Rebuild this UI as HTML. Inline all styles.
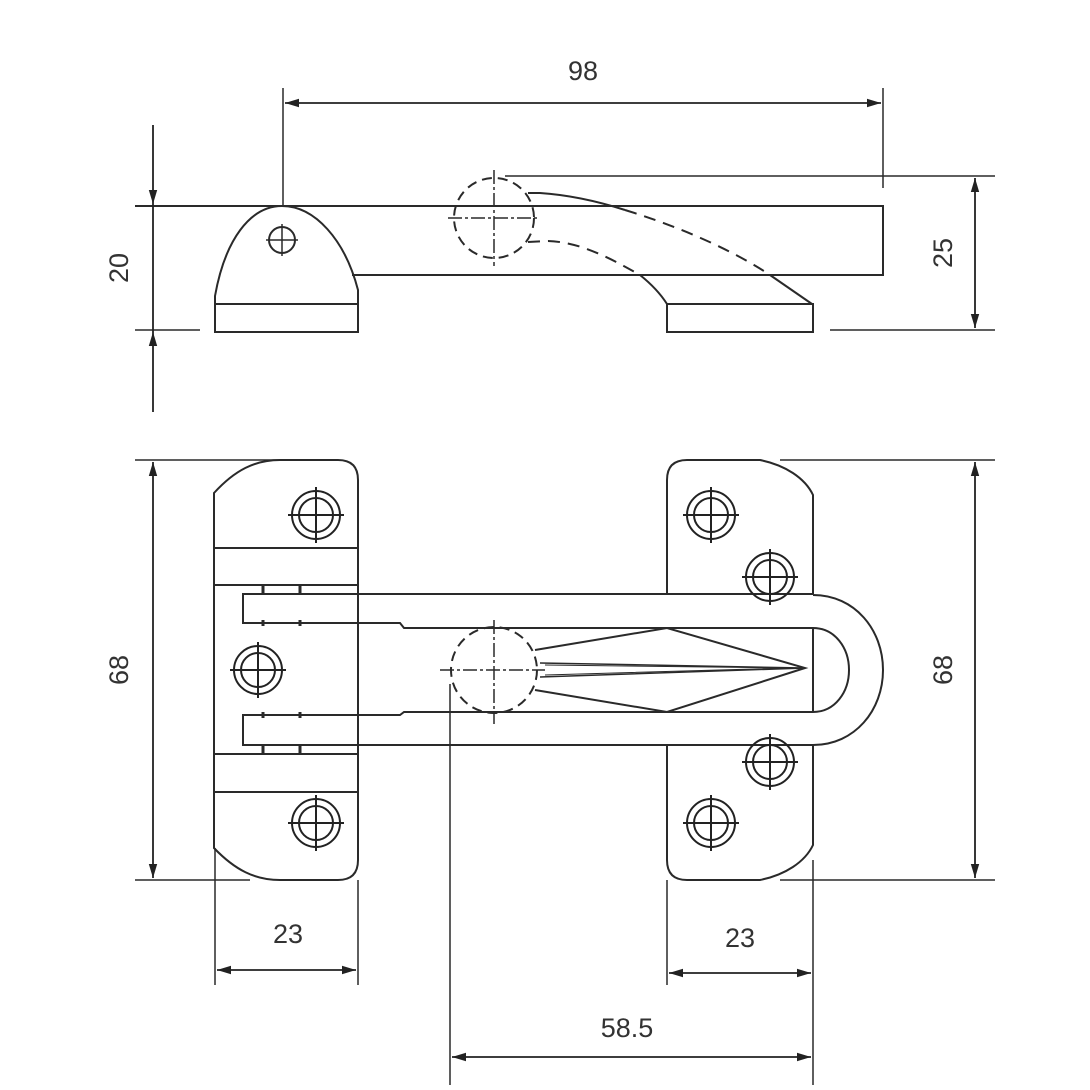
<!DOCTYPE html>
<html><head><meta charset="utf-8"><style>html,body{margin:0;padding:0;background:#fff}svg{display:block}</style></head>
<body>
<svg width="1090" height="1090" viewBox="0 0 1090 1090" xmlns="http://www.w3.org/2000/svg">
<defs>
<marker id="a" viewBox="0 0 10 10" refX="10" refY="5" markerWidth="14" markerHeight="14" markerUnits="userSpaceOnUse" orient="auto-start-reverse"><path d="M0,2 L10,5 L0,8 z" fill="#222"/></marker>
<g id="scr" fill="none" stroke="#222" stroke-width="2"><circle r="24"/><circle r="17"/><path d="M-28,0H28M0,-28V28"/></g>
</defs>
<g fill="none" stroke="#2a2a2a" stroke-width="2">
<!-- TOP VIEW -->
<path d="M135,206H883V275H352"/>
<path d="M215,304V296C225,240 250,206 282,206C315,206 345,240 358,290V304"/>
<rect x="215" y="304" width="143" height="28"/>
<circle cx="282" cy="240" r="13"/>
<path d="M266,240H298M282,224V256" stroke-width="1.5"/>
<circle cx="494" cy="218" r="40" stroke-dasharray="10,6"/>
<path d="M448,218H540M494,170V266" stroke-width="1.5" stroke-dasharray="14,3,3,3"/>
<path d="M528,193L540,193C570,195 600,202 625,210"/>
<path d="M625,210C690,230 740,255 770,275" stroke-dasharray="12,8"/>
<path d="M770,275L812,304"/>
<path d="M528,242L548,241C580,242 610,258 640,275" stroke-dasharray="12,8"/>
<path d="M640,275C650,283 660,293 667,304"/>
<rect x="667" y="304" width="146" height="28"/>
<path d="M505,176H995M830,330H995M135,330H200" stroke-width="1.5"/>
<path d="M283,88V206M883,88V188" stroke-width="1.5"/>
<!-- BOTTOM VIEW left plate -->
<path d="M214,493C235,470 255,460 280,460H338Q358,460 358,480V860Q358,880 338,880H280C255,880 235,870 214,848Z"/>
<path d="M214,548H358M214,792H358M214,585H358M214,754H358"/>
<path d="M358,594H243V623H400L404,628H813"/>
<path d="M358,745H243V715H400L404,712H813"/>
<path d="M263,585V594M300,585V594M263,745V754M300,745V754M263,620V626M300,620V626M263,712V718M300,712V718" stroke-width="3"/>
<path d="M358,594H813M358,745H813"/>
<!-- right plate -->
<path d="M667,594V480Q667,460 687,460H760C785,465 805,478 813,495V594"/>
<path d="M667,745V860Q667,880 687,880H760C785,875 805,862 813,845V745"/>
<path d="M813,595C855,595 883,630 883,670C883,710 855,745 813,745"/>
<path d="M813,628C835,628 849,648 849,670C849,692 835,712 813,712V628"/>
<!-- knob & diamond -->
<circle cx="494" cy="670" r="43" stroke-dasharray="10,6"/>
<path d="M440,670H545M494,620V724" stroke-width="1.5" stroke-dasharray="14,3,3,3"/>
<path d="M535,650L667,628L805,668L667,712L535,690"/>
<path d="M540,663L805,668L540,677" stroke-width="1.5"/>
<path d="M545,665L790,668L545,675" stroke-width="1"/>
<!-- dims bottom -->
<path d="M135,460H300M135,880H250M780,460H995M780,880H995" stroke-width="1.5"/>
<path d="M215,848V985M358,880V985M667,880V985M813,860V1085M450,684V1085" stroke-width="1.5"/>
</g>
<use href="#scr" x="316" y="515"/><use href="#scr" x="316" y="823"/><use href="#scr" x="258" y="670"/>
<use href="#scr" x="711" y="515"/><use href="#scr" x="770" y="577"/><use href="#scr" x="770" y="762"/><use href="#scr" x="711" y="823"/>
<g stroke="#222" stroke-width="1.8" fill="none">
<line x1="285" y1="103" x2="881" y2="103" marker-start="url(#a)" marker-end="url(#a)"/>
<line x1="153" y1="125" x2="153" y2="204" marker-end="url(#a)"/>
<line x1="153" y1="412" x2="153" y2="332" marker-end="url(#a)"/>
<line x1="153" y1="204" x2="153" y2="332"/>
<line x1="975" y1="178" x2="975" y2="328" marker-start="url(#a)" marker-end="url(#a)"/>
<line x1="153" y1="462" x2="153" y2="878" marker-start="url(#a)" marker-end="url(#a)"/>
<line x1="975" y1="462" x2="975" y2="878" marker-start="url(#a)" marker-end="url(#a)"/>
<line x1="217" y1="970" x2="356" y2="970" marker-start="url(#a)" marker-end="url(#a)"/>
<line x1="669" y1="973" x2="811" y2="973" marker-start="url(#a)" marker-end="url(#a)"/>
<line x1="452" y1="1057" x2="811" y2="1057" marker-start="url(#a)" marker-end="url(#a)"/>
</g>
<g font-family="Liberation Sans, sans-serif" font-size="27" fill="#333" text-anchor="middle">
<text x="583" y="80">98</text>
<text x="288" y="943">23</text>
<text x="740" y="947">23</text>
<text x="627" y="1037">58.5</text>
<text transform="translate(128,268) rotate(-90)">20</text>
<text transform="translate(952,253) rotate(-90)">25</text>
<text transform="translate(128,670) rotate(-90)">68</text>
<text transform="translate(952,670) rotate(-90)">68</text>
</g>
</svg>
</body></html>
